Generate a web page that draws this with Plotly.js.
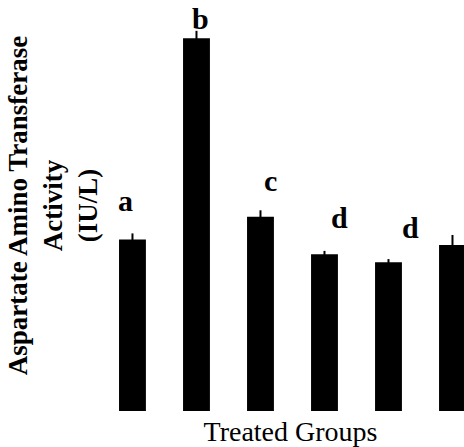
<!DOCTYPE html>
<html>
<head>
<meta charset="utf-8">
<script src="https://cdn.plot.ly/plotly-3.0.1.min.js"></script>
<style>html,body{margin:0;padding:0;overflow:hidden;background:#fff;}</style>
</head>
<body>
<div id="chart" style="width:474px;height:447px;"></div>
<script>
// Data
const groups = ["Group 1", "Group 2", "Group 3", "Group 4", "Group 5", "Group 6"];
const astActivity = [50.1, 108.8, 56.7, 45.8, 43.4, 48.5];
const astError = [1.75, 2.2, 1.9, 0.95, 0.95, 2.9];
const sigLetters = ["a", "b", "c", "d", "d", ""];

// Label placement (style only)
const letterDx = [-0.11, 0.07, 0.15, 0.24, 0.35, 0];
const letterShift = [33.4, 12.8, 29.4, 33.8, 32.1, 0];

const serif = "Times New Roman, Liberation Serif, serif";

const annotations = [];
sigLetters.forEach((t, i) => {
  if (!t) return;
  annotations.push({
    x: i + letterDx[i], xref: "x",
    y: astActivity[i] + astError[i], yref: "y",
    text: "<b>" + t + "</b>", showarrow: false,
    yanchor: "middle", xanchor: "center", yshift: letterShift[i],
    font: {family: serif, size: 30, color: "#000"}
  });
});

const trace = {
  type: "bar",
  x: groups,
  y: astActivity,
  width: 0.42,
  marker: {color: "#000", line: {width: 0}},
  error_y: {type: "data", array: astError, visible: true, color: "#000", thickness: 2, width: 0},
  hoverinfo: "skip"
};

const layout = {
  width: 474, height: 447,
  margin: {l: 107, r: 0, t: 0, b: 36},
  paper_bgcolor: "#fff", plot_bgcolor: "#fff",
  showlegend: false,
  xaxis: {
    type: "category",
    range: [-0.398, 5.336],
    showticklabels: false, ticks: "", showgrid: false, zeroline: false, showline: false,
    title: {text: "Treated Groups", font: {family: serif, size: 28, color: "#000"}}
  },
  yaxis: {
    range: [0, 120],
    automargin: true,
    showticklabels: false, ticks: "", showgrid: false, zeroline: false, showline: false,
    title: {text: "<b>Aspartate Amino Transferase<br>Activity<br>(IU/L)</b>", standoff: 0,
            font: {family: serif, size: 27, color: "#000"}}
  },
  annotations: annotations
};

Plotly.newPlot("chart", [trace], layout, {displayModeBar: false, staticPlot: true});
</script>
</body>
</html>
